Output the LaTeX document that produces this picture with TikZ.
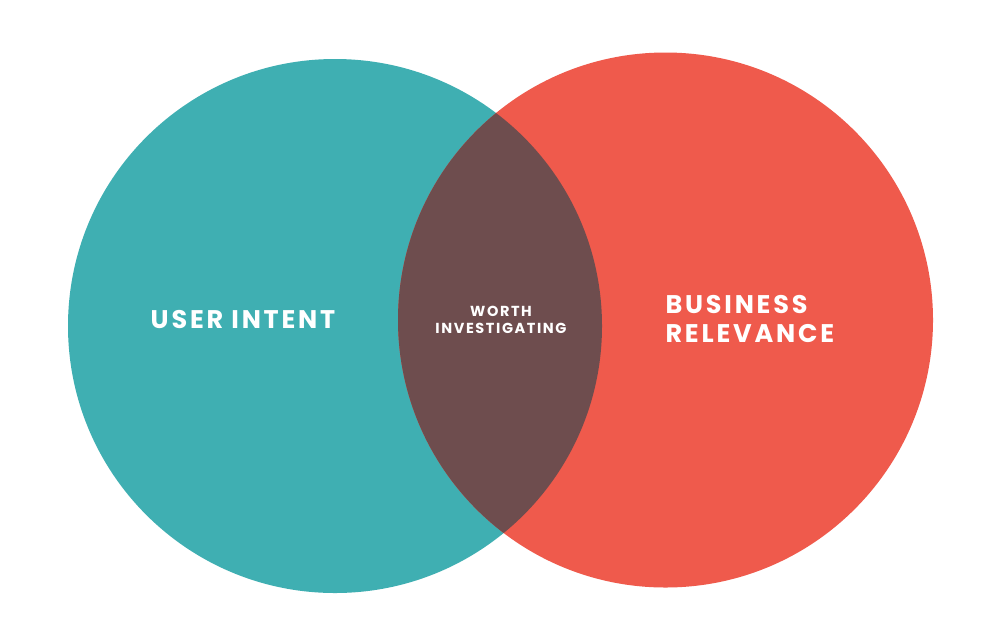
\documentclass[tikz,border=0pt]{standalone}
\usepackage{fontspec}
\setmainfont{Poppins}[UprightFont=*-SemiBold,BoldFont=*-Bold]
\newfontfamily\lblfont{Poppins}[UprightFont=*-Bold,LetterSpace=11]
\definecolor{teal}{HTML}{3FAFB2}
\definecolor{coral}{HTML}{EF5A4C}
\definecolor{overlapc}{HTML}{6E4D4E}
\begin{document}
\begin{tikzpicture}[x=1pt,y=-1pt,
  blob/.style={circle,minimum size=#1pt,inner sep=0pt},
  lbl/.style={text=white,align=center,font=\lblfont\fontsize{#1}{#1}\selectfont}]
\useasboundingbox (0,0) rectangle (1000,638);
\fill[white] (0,0) rectangle (1000,638);
\fill[teal] (335,326) circle[radius=267];
\fill[coral] (665.5,320) circle[radius=267.5];
\begin{scope}
  \clip (335,326) circle[radius=267];
  \fill[overlapc] (665.5,320) circle[radius=267.5];
\end{scope}
\node[blob=534] (user) at (335,326) {};
\node[blob=535] (biz) at (665.5,320) {};
\node[lbl=25.5] (ut) at (244,320) {USER INTENT\hspace{2pt}};
\node[lbl=14.5,align=center] (wi) at (501,320) {WORTH\\[2.5pt]INVESTIGATING};
\node[lbl=25.5,align=left,anchor=west] (br) at (662,319) {BUSINESS\\[4pt]RELEVANCE};
\end{tikzpicture}
\end{document}
